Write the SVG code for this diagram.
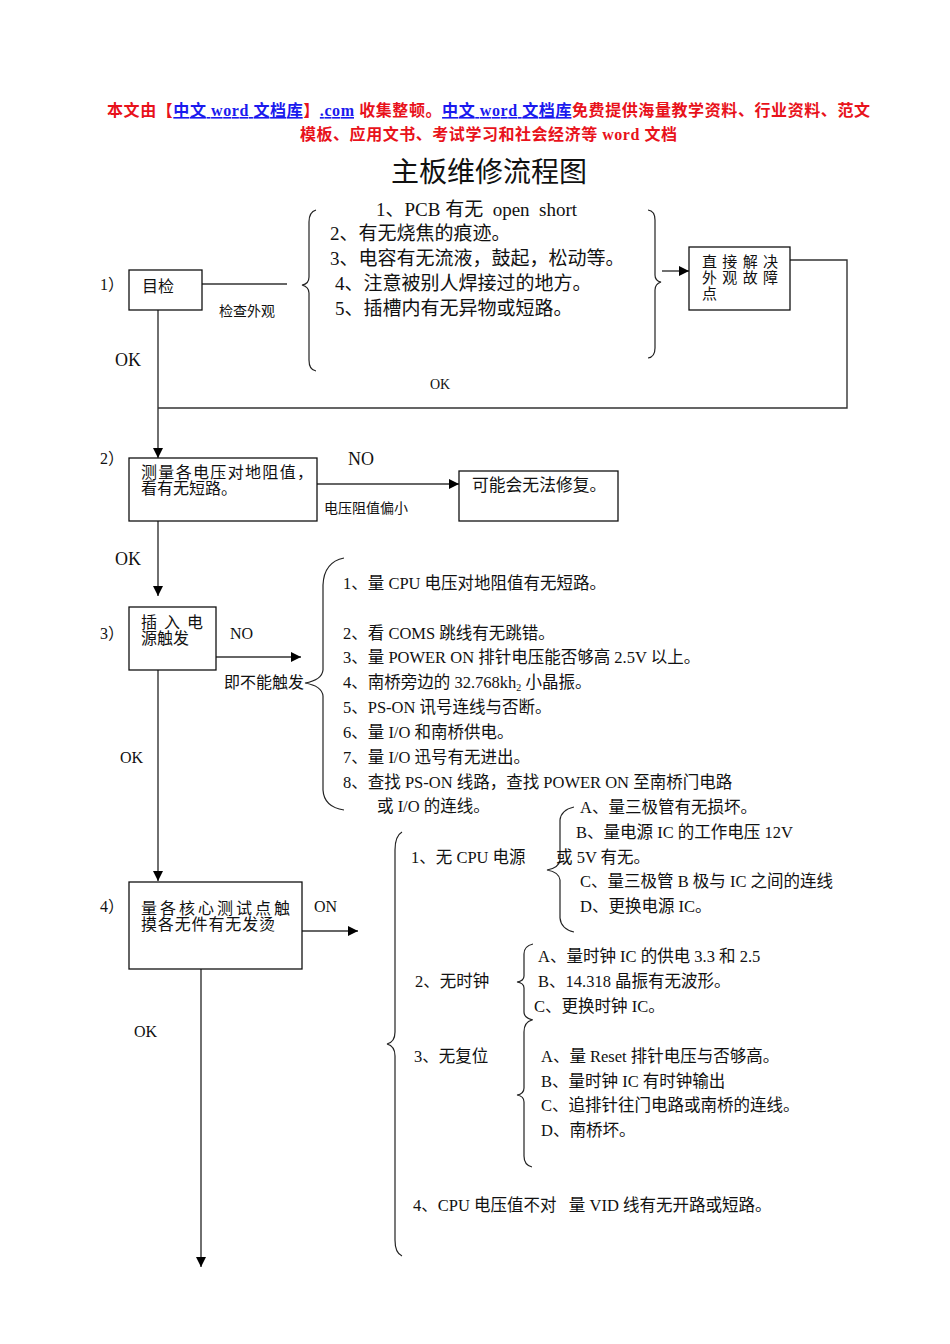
<svg xmlns="http://www.w3.org/2000/svg" width="950" height="1344" viewBox="0 0 950 1344" xml:space="preserve">
<style>
text{font-family:'Liberation Serif','Noto Sans CJK SC',serif;fill:#111;white-space:pre}
.hdr{font-size:16px;font-weight:bold;fill:#e8121b}
.lnk{fill:#1a1aee;text-decoration:underline}
.title{font-size:28px}
.t19{font-size:19px}
.t18{font-size:18px}
.t165{font-size:16.5px}
.t16{font-size:16px}
.t15{font-size:15px}
.t14{font-size:14px}
.box{fill:#fff;stroke:#111;stroke-width:1.3}
.ln{fill:none;stroke:#333;stroke-width:1.4}
.br{fill:none;stroke:#222;stroke-width:1.2}
</style>
<defs>
<marker id="ah" markerUnits="userSpaceOnUse" markerWidth="12" markerHeight="10" refX="10" refY="5" orient="auto">
<path d="M0,0 L10,5 L0,10 Z" fill="#000"/>
</marker>
</defs>
<rect width="950" height="1344" fill="#fff"/>

<g id="header">
<text class="hdr" x="107" y="116" textLength="763" lengthAdjust="spacing">本文由【<tspan class="lnk">中文 word 文档库</tspan>】<tspan class="lnk">.com</tspan> 收集整顿。<tspan class="lnk">中文 word 文档库</tspan>免费提供海量教学资料、行业资料、范文</text>
<text class="hdr" x="300" y="140" textLength="377" lengthAdjust="spacing">模板、应用文书、考试学习和社会经济等 word 文档</text>
<text class="title" x="489" y="182" text-anchor="middle">主板维修流程图</text>
</g>

<g id="connectors">
<path class="ln" d="M202,284 L287,284"/>
<path class="ln" d="M158,310 L158,458" marker-end="url(#ah)"/>
<path class="ln" d="M790,260 L847,260 L847,408 L158,408"/>
<path class="ln" d="M662,271 L689,271" marker-end="url(#ah)"/>
<path class="ln" d="M317,484 L459,484" marker-end="url(#ah)"/>
<path class="ln" d="M158,521 L158,596" marker-end="url(#ah)"/>
<path class="ln" d="M216,657 L301,657" marker-end="url(#ah)"/>
<path class="ln" d="M158,670 L158,881" marker-end="url(#ah)"/>
<path class="ln" d="M302,931 L358,931" marker-end="url(#ah)"/>
<path class="ln" d="M201,969 L201,1267" marker-end="url(#ah)"/>
</g>

<g id="braces">
<path class="br" d="M316,210 Q309,212 309,222 L309,277 Q309,284 302,285 Q309,287 309,293 L309,360 Q309,370 316,371"/>
<path class="br" d="M648,210 Q655,211 655,220 L655,275 Q655,281 661,282 Q655,284 655,290 L655,348 Q655,357 648,358"/>
<path class="br" d="M344,558 Q324,562 323,585 L323,670 Q322,680 305,683 Q322,686 323,696 L323,790 Q324,807 344,810"/>
<path class="br" d="M402,832 Q395,836 395,850 L395,1032 Q395,1042 387,1044 Q395,1046 395,1056 L395,1240 Q395,1253 402,1256"/>
<path class="br" d="M574,807 Q561,810 560,820 L560,860 Q559,868 547,870 Q559,872 560,880 L560,918 Q561,929 574,932"/>
<path class="br" d="M533,944 Q524,946 524,954 L524,976 Q524,981 517,982 Q524,983 524,988 L524,1012 Q524,1018 533,1020"/>
<path class="br" d="M532,1020 Q524,1022 524,1032 L524,1088 Q524,1094 517,1095 Q524,1096 524,1102 L524,1156 Q524,1165 532,1167"/>
</g>

<g id="step1">
<text class="t16" x="100" y="290">1）</text>
<rect class="box" x="129" y="270" width="73" height="40"/>
<text class="t16" x="142" y="292">目检</text>
<text class="t14" x="219" y="316">检查外观</text>
<text class="t18" x="115" y="366">OK</text>
<text class="t14" x="430" y="389">OK</text>
</g>

<g id="step1-checks">
<text class="t19" x="376" y="216">1、PCB 有无  open  short</text>
<text class="t19" x="330" y="240">2、有无烧焦的痕迹。</text>
<text class="t19" x="330" y="265">3、电容有无流液，鼓起，松动等。</text>
<text class="t19" x="335" y="290">4、注意被别人焊接过的地方。</text>
<text class="t19" x="335" y="315">5、插槽内有无异物或短路。</text>
</g>

<g id="fix-node">
<rect class="box" x="689" y="247" width="101" height="63"/>
<text class="t15" x="702" y="267" textLength="76" lengthAdjust="spacing">直接解决</text>
<text class="t15" x="702" y="283" textLength="76" lengthAdjust="spacing">外观故障</text>
<text class="t15" x="702" y="299">点</text>
</g>

<g id="step2">
<text class="t16" x="100" y="464">2）</text>
<rect class="box" x="129" y="458" width="188" height="63"/>
<text class="t16" x="141" y="478" textLength="172" lengthAdjust="spacing">测量各电压对地阻值，</text>
<text class="t16" x="141" y="494">看有无短路。</text>
<text class="t18" x="348" y="465">NO</text>
<text class="t14" x="324" y="513">电压阻值偏小</text>
<text class="t18" x="115" y="565">OK</text>
</g>

<g id="unrepairable">
<rect class="box" x="459" y="471" width="159" height="50"/>
<text class="t16" x="472" y="491" style="font-size:16.8px">可能会无法修复。</text>
</g>

<g id="step3">
<text class="t16" x="100" y="639">3）</text>
<rect class="box" x="129" y="607" width="87" height="63"/>
<text class="t16" x="141" y="628" textLength="62" lengthAdjust="spacing">插入电</text>
<text class="t16" x="141" y="644">源触发</text>
<text class="t16" x="230" y="639">NO</text>
<text class="t16" x="224" y="688">即不能触发</text>
<text class="t16" x="120" y="763">OK</text>
</g>

<g id="step3-checks">
<text class="t165" x="343" y="589">1、量 CPU 电压对地阻值有无短路。</text>
<text class="t165" x="343" y="639">2、看 COMS 跳线有无跳错。</text>
<text class="t165" x="343" y="663">3、量 POWER ON 排针电压能否够高 2.5V 以上。</text>
<text class="t165" x="343" y="688">4、南桥旁边的 32.768kh<tspan font-size="10" dy="3">2</tspan><tspan dy="-3"> 小晶振。</tspan></text>
<text class="t165" x="343" y="713">5、PS-ON 讯号连线与否断。</text>
<text class="t165" x="343" y="738">6、量 I/O 和南桥供电。</text>
<text class="t165" x="343" y="763">7、量 I/O 迅号有无进出。</text>
<text class="t165" x="343" y="788">8、查找 PS-ON 线路，查找 POWER ON 至南桥门电路</text>
<text class="t165" x="377" y="812">或 I/O 的连线。</text>
</g>

<g id="step4">
<text class="t16" x="100" y="912">4）</text>
<rect class="box" x="129" y="882" width="173" height="87"/>
<text class="t16" x="141" y="914" textLength="149" lengthAdjust="spacing">量各核心测试点触</text>
<text class="t16" x="141" y="930" textLength="134" lengthAdjust="spacing">摸各无件有无发烫</text>
<text class="t16" x="314" y="912">ON</text>
<text class="t16" x="134" y="1037">OK</text>
</g>

<g id="step4-checks">
<text class="t165" x="411" y="863">1、无 CPU 电源</text>
<text class="t165" x="580" y="813">A、量三极管有无损坏。</text>
<text class="t165" x="576" y="838">B、量电源 IC 的工作电压 12V</text>
<text class="t165" x="556" y="863">或 5V 有无。</text>
<text class="t165" x="580" y="887">C、量三极管 B 极与 IC 之间的连线</text>
<text class="t165" x="580" y="912">D、更换电源 IC。</text>
<text class="t165" x="415" y="987">2、无时钟</text>
<text class="t165" x="538" y="962">A、量时钟 IC 的供电 3.3 和 2.5</text>
<text class="t165" x="538" y="987">B、14.318 晶振有无波形。</text>
<text class="t165" x="534" y="1012">C、更换时钟 IC。</text>
<text class="t165" x="414" y="1062">3、无复位</text>
<text class="t165" x="541" y="1062">A、量 Reset 排针电压与否够高。</text>
<text class="t165" x="541" y="1087">B、量时钟 IC 有时钟输出</text>
<text class="t165" x="541" y="1111">C、追排针往门电路或南桥的连线。</text>
<text class="t165" x="541" y="1136">D、南桥坏。</text>
<text class="t165" x="413" y="1211">4、CPU 电压值不对   量 VID 线有无开路或短路。</text>
</g>
</svg>
